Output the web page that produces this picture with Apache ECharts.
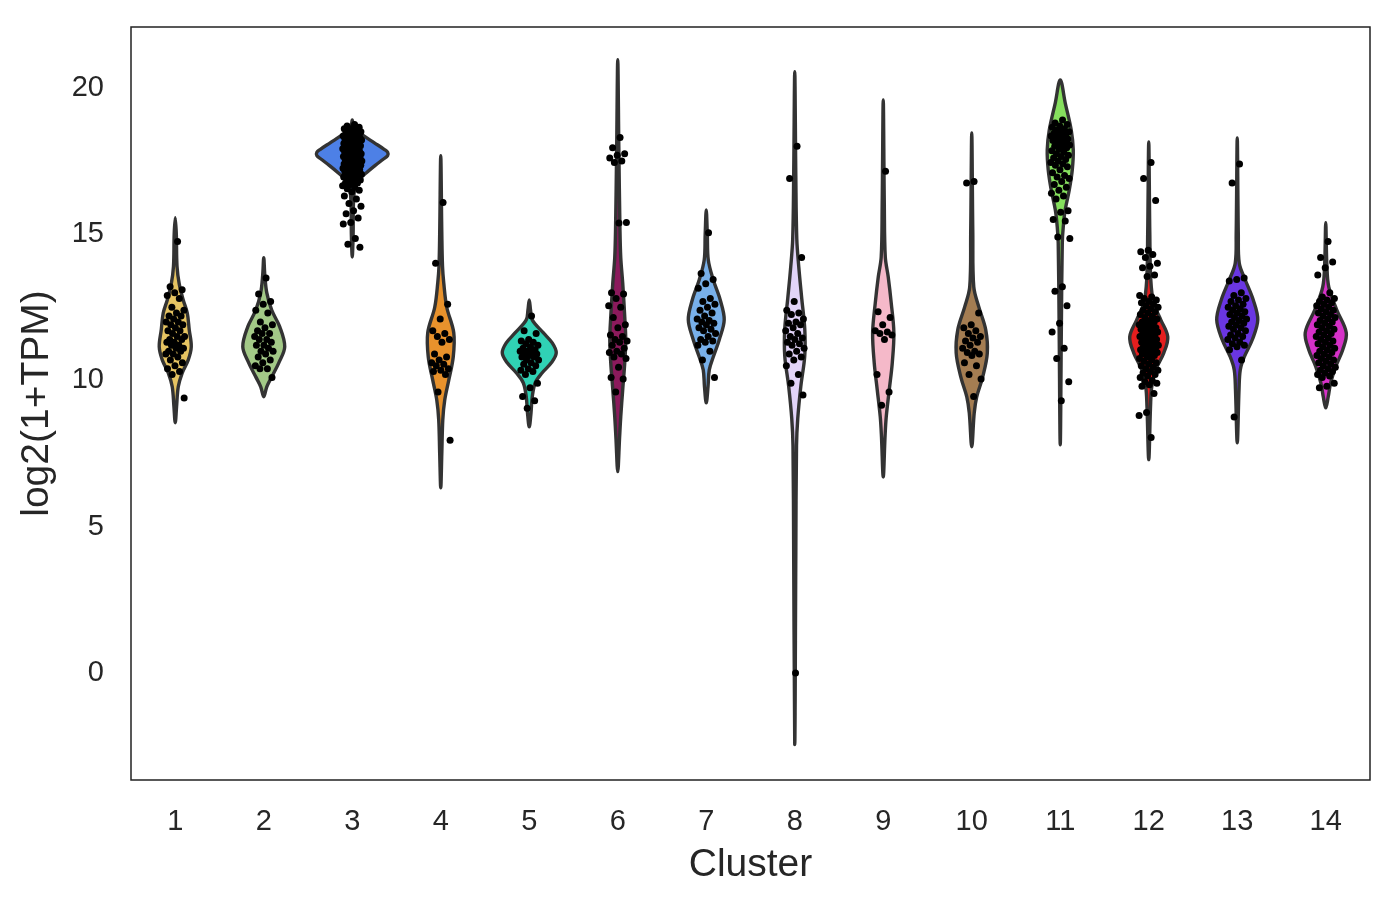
<!DOCTYPE html>
<html><head><meta charset="utf-8">
<script src="https://cdn.jsdelivr.net/npm/echarts@6/dist/echarts.min.js"></script>
<style>html,body{margin:0;padding:0;background:#fff}#c{width:1396px;height:905px}</style>
</head><body><div id="c"></div>
<script>
const categories = ['1','2','3','4','5','6','7','8','9','10','11','12','13','14'];
const yTicks = [0, 5, 10, 15, 20];
const colors = ['#e6c462','#a3c987','#4d80e6','#e8922c','#30d2b5','#8b1a5c','#78b0ea','#e2d4f8','#f5b9c9','#a47d52','#86e05e','#e41e1e','#6a36e2','#d631c8'];

// violin outlines: [value, half-width (category band units)], top to bottom
const violin1 = [[15.56,0],[15.0,0.012],[13.9,0.02],[13.3,0.045],[12.75,0.09],[12.3,0.136],[11.73,0.158],[11.15,0.181],[10.7,0.147],[10.26,0.079],[9.78,0.034],[9.1,0.015],[8.55,0]];
const violin2 = [[14.19,0],[13.6,0.012],[13.0,0.034],[12.4,0.09],[11.83,0.181],[11.15,0.237],[10.6,0.17],[10.12,0.09],[9.78,0.034],[9.44,0]];
const violin3 = [[18.9,0],[18.6,0.02],[18.4,0.11],[18.12,0.25],[17.9,0.36],[17.8,0.4],[17.68,0.4],[17.56,0.35],[17.35,0.26],[17.1,0.16],[16.85,0.07],[16.6,0.03],[16.0,0.013],[15,0.01],[14.22,0]];
const violin4 = [[17.68,0],[15,0.012],[13.9,0.02],[13.33,0.034],[12.5,0.068],[11.63,0.147],[10.8,0.141],[10.0,0.09],[9.33,0.045],[8.65,0.023],[7.5,0.012],[6.33,0]];
const violin5 = [[12.75,0],[12.4,0.015],[12.07,0.034],[11.63,0.158],[11.28,0.26],[10.94,0.305],[10.6,0.249],[10.26,0.147],[9.92,0.068],[9.44,0.034],[8.89,0.02],[8.41,0]];
const violin6 = [[20.96,0],[18,0.012],[15.15,0.025],[14.2,0.034],[13.33,0.056],[12.17,0.079],[11.39,0.09],[10.6,0.079],[9.68,0.056],[8.76,0.034],[8.0,0.02],[6.88,0]];
const violin7 = [[15.83,0],[15.0,0.012],[14.12,0.023],[13.44,0.079],[12.75,0.158],[12.07,0.203],[11.39,0.147],[10.8,0.079],[10.36,0.034],[9.78,0.02],[9.23,0]];
const violin8 = [[20.55,0],[17,0.012],[14.84,0.023],[13.9,0.045],[12.8,0.079],[11.76,0.113],[10.84,0.113],[9.78,0.068],[8.7,0.034],[7.77,0.02],[4,0.012],[-2.45,0]];
const violin9 = [[19.59,0],[16,0.012],[14.22,0.023],[13.54,0.056],[12.65,0.09],[11.63,0.12],[10.6,0.102],[9.68,0.068],[8.76,0.034],[8.07,0.02],[6.7,0]];
const violin10 = [[18.46,0],[15,0.012],[13.2,0.023],[12.52,0.079],[11.73,0.158],[10.94,0.176],[10.12,0.124],[9.44,0.056],[8.89,0.028],[7.73,0]];
const violin11 = [[20.27,0],[19.49,0.056],[18.56,0.124],[17.88,0.147],[17.2,0.136],[16.51,0.102],[15.83,0.056],[15.25,0.034],[14.7,0.023],[12,0.013],[7.8,0]];
const violin12 = [[18.15,0],[15,0.012],[13.44,0.023],[12.65,0.056],[12.07,0.136],[11.49,0.215],[10.94,0.17],[10.36,0.079],[9.78,0.034],[9.1,0.02],[7.29,0]];
const violin13 = [[18.29,0],[15,0.012],[14.0,0.023],[13.44,0.09],[12.75,0.181],[12.07,0.232],[11.39,0.17],[10.8,0.079],[10.36,0.034],[9.68,0.02],[7.87,0]];
const violin14 = [[15.39,0],[14,0.012],[13.2,0.034],[12.41,0.124],[11.63,0.232],[11.05,0.192],[10.47,0.113],[9.92,0.056],[9.44,0.028],[9.06,0]];

// observed points (log2(1+TPM)) per cluster
const points1 = [14.75,13.2,13.1,13.0,12.9,12.8,12.5,12.4,12.3,12.2,12.2,12.1,12.0,12.0,11.9,11.9,11.8,11.7,11.7,11.6,11.5,11.5,11.4,11.4,11.3,11.3,11.2,11.2,11.1,11.1,11.0,11.0,10.9,10.9,10.8,10.7,10.6,10.5,10.4,10.3,10.2,9.4];
const points2 = [13.5,12.95,12.7,12.6,12.4,12.3,12.0,11.9,11.8,11.7,11.6,11.6,11.5,11.4,11.4,11.3,11.2,11.2,11.1,11.0,11.0,10.9,10.8,10.7,10.6,10.5,10.4,10.4,10.1];
const points3 = [18.75,18.7,18.65,18.6,18.6,18.55,18.5,18.5,18.45,18.45,18.4,18.4,18.35,18.35,18.3,18.3,18.25,18.25,18.2,18.2,18.22,18.15,18.15,18.12,18.1,18.1,18.05,18.05,18.02,18.0,18.0,17.95,17.95,17.92,17.9,17.9,17.85,17.85,17.82,17.8,17.8,17.75,17.75,17.72,17.7,17.7,17.65,17.65,17.62,17.6,17.6,17.55,17.55,17.52,17.5,17.5,17.45,17.45,17.42,17.4,17.4,17.35,17.35,17.32,17.3,17.3,17.25,17.25,17.22,17.2,17.2,17.15,17.15,17.1,17.1,17.05,17.05,17.0,17.0,16.95,16.95,16.9,16.85,16.85,16.8,16.75,16.75,16.7,16.65,16.6,16.55,16.5,16.45,16.3,16.2,16.05,15.95,15.8,15.7,15.55,15.4,15.35,14.85,14.65,14.55];
const points4 = [16.08,14.0,12.6,12.1,11.7,11.6,11.5,11.4,11.3,10.9,10.8,10.7,10.6,10.55,10.5,10.4,10.35,10.3,10.2,9.6,7.95];
const points5 = [12.2,11.7,11.6,11.4,11.35,11.3,11.25,11.2,11.15,11.1,11.05,11.0,11.0,10.95,10.9,10.9,10.85,10.8,10.8,10.7,10.7,10.6,10.55,10.5,10.4,10.35,10.3,10.2,9.9,9.75,9.45,9.3,9.05];
const points6 = [18.3,17.95,17.75,17.7,17.6,17.5,17.45,15.4,15.38,13.0,12.95,12.8,12.55,12.5,12.15,11.9,11.8,11.55,11.5,11.4,11.35,11.3,11.2,11.1,11.0,10.95,10.9,10.8,10.75,10.45,10.1,10.05,9.6];
const points7 = [15.05,13.65,13.45,13.3,13.15,12.8,12.7,12.6,12.5,12.4,12.3,12.2,12.1,12.05,12.0,11.95,11.9,11.8,11.75,11.7,11.6,11.5,11.4,11.35,11.3,11.2,11.0,10.7,10.1];
const points8 = [18.0,16.9,14.2,12.7,12.4,12.3,12.25,12.1,12.0,11.95,11.9,11.8,11.7,11.6,11.5,11.45,11.4,11.3,11.25,11.2,11.1,11.0,10.9,10.8,10.7,10.5,10.2,9.9,9.5,0.0];
const points9 = [17.15,12.35,12.15,11.9,11.7,11.65,11.6,11.55,11.4,10.2,9.6,9.15];
const points10 = [16.8,16.75,12.3,11.9,11.8,11.7,11.6,11.5,11.45,11.35,11.3,11.2,11.1,11.0,10.95,10.9,10.85,10.6,10.5,10.2,10.05,9.45];
const points11 = [18.9,18.8,18.75,18.7,18.65,18.6,18.55,18.5,18.5,18.45,18.4,18.4,18.35,18.3,18.3,18.25,18.2,18.2,18.15,18.1,18.05,18.0,18.0,17.95,17.9,17.85,17.8,17.75,17.7,17.65,17.6,17.55,17.5,17.45,17.4,17.35,17.3,17.2,17.1,17.0,16.95,16.9,16.8,16.7,16.6,16.5,16.4,16.3,16.2,15.8,15.75,15.5,15.45,14.9,14.85,13.2,13.05,12.55,11.95,11.65,11.1,10.75,9.95,9.3];
const points12 = [17.45,16.9,16.15,14.45,14.4,14.3,14.2,14.0,13.9,13.85,13.6,13.55,12.9,12.85,12.8,12.75,12.7,12.65,12.6,12.55,12.5,12.45,12.4,12.35,12.3,12.25,12.2,12.15,12.1,12.05,12.0,12.0,11.95,11.9,11.9,11.85,11.8,11.8,11.75,11.7,11.7,11.65,11.6,11.6,11.55,11.5,11.5,11.45,11.4,11.4,11.35,11.3,11.3,11.25,11.2,11.2,11.15,11.1,11.1,11.05,11.0,11.0,10.95,10.9,10.9,10.85,10.8,10.75,10.7,10.65,10.6,10.55,10.5,10.45,10.4,10.35,10.3,10.25,10.2,10.15,10.1,10.0,9.95,9.9,9.85,9.8,9.55,8.9,8.8,8.05];
const points13 = [17.4,16.75,13.5,13.45,13.4,13.0,12.9,12.8,12.75,12.7,12.6,12.55,12.5,12.45,12.4,12.35,12.3,12.25,12.2,12.15,12.1,12.05,12.0,11.95,11.9,11.85,11.8,11.75,11.7,11.6,11.55,11.5,11.45,11.4,11.3,11.25,11.2,11.15,11.05,10.7,8.75];
const points14 = [14.75,14.2,14.05,13.85,13.6,13.0,12.85,12.8,12.75,12.7,12.65,12.6,12.55,12.5,12.45,12.4,12.35,12.3,12.25,12.2,12.15,12.1,12.05,12.0,11.95,11.9,11.85,11.8,11.75,11.7,11.65,11.6,11.55,11.5,11.45,11.4,11.35,11.3,11.25,11.2,11.15,11.1,11.05,11.0,10.95,10.9,10.85,10.8,10.75,10.7,10.65,10.6,10.55,10.5,10.45,10.4,10.35,10.3,10.25,10.2,10.15,10.1,9.9,9.8,9.75];

const violins = [violin1,violin2,violin3,violin4,violin5,violin6,violin7,violin8,violin9,violin10,violin11,violin12,violin13,violin14];
const pointSets = [points1,points2,points3,points4,points5,points6,points7,points8,points9,points10,points11,points12,points13,points14];

const JITTER = 0.11;
const stripData = [];
pointSets.forEach((arr, k) => {
  arr.forEach((v, i) => {
    const j = (((i + 1) * 0.6180339887) % 1 - 0.5) * 2 * JITTER;
    stripData.push([k + j, v]);
  });
});

const chart = echarts.init(document.getElementById('c'), null, {renderer: 'canvas'});
const FONT = 'Liberation Sans, Arial, sans-serif';
chart.setOption({
  animation: false,
  backgroundColor: '#fff',
  grid: {left: 131, right: 26, top: 27, bottom: 125, show: true, borderColor: '#222222', borderWidth: 1.5, backgroundColor: 'transparent'},
  xAxis: [{
    type: 'category', data: categories, boundaryGap: true,
    axisLine: {show: false}, axisTick: {show: false}, splitLine: {show: false},
    axisLabel: {fontSize: 29, color: '#262626', margin: 27, fontFamily: FONT},
    name: 'Cluster', nameLocation: 'middle', nameGap: 66,
    nameTextStyle: {fontSize: 39, color: '#262626', fontFamily: FONT}
  }, {
    type: 'value', min: -0.5, max: 13.5, show: false
  }],
  yAxis: {
    type: 'value', min: -3.66, max: 22.08,
    axisLine: {show: false}, axisTick: {show: false}, splitLine: {show: false},
    axisLabel: {fontSize: 29, color: '#262626', margin: 27, fontFamily: FONT, customValues: yTicks,
      formatter: v => (yTicks.indexOf(v) >= 0 ? String(v) : '')},
    name: 'log2(1+TPM)', nameLocation: 'middle', nameGap: 74, nameRotate: 90,
    nameTextStyle: {fontSize: 39, color: '#262626', fontFamily: FONT}
  },
  series: [{
    type: 'custom', xAxisIndex: 1, yAxisIndex: 0,
    data: categories.map((c, i) => [i, 10]),
    encode: {x: 0, y: 1},
    renderItem: function (params, api) {
      const k = api.value(0);
      const prof = violins[k];
      const right = prof.map(p => api.coord([k + p[1], p[0]]));
      const left = prof.slice(1, -1).reverse().map(p => api.coord([k - p[1], p[0]]));
      return {
        type: 'polygon',
        shape: {points: right.concat(left), smooth: 0.35},
        style: {fill: colors[k], stroke: '#333333', lineWidth: 3.4, lineJoin: 'round'}
      };
    },
    z: 2
  }, {
    type: 'scatter', xAxisIndex: 1, yAxisIndex: 0,
    data: stripData, symbolSize: 7,
    itemStyle: {color: '#000', opacity: 1},
    z: 3
  }]
});
</script>
</body></html>
